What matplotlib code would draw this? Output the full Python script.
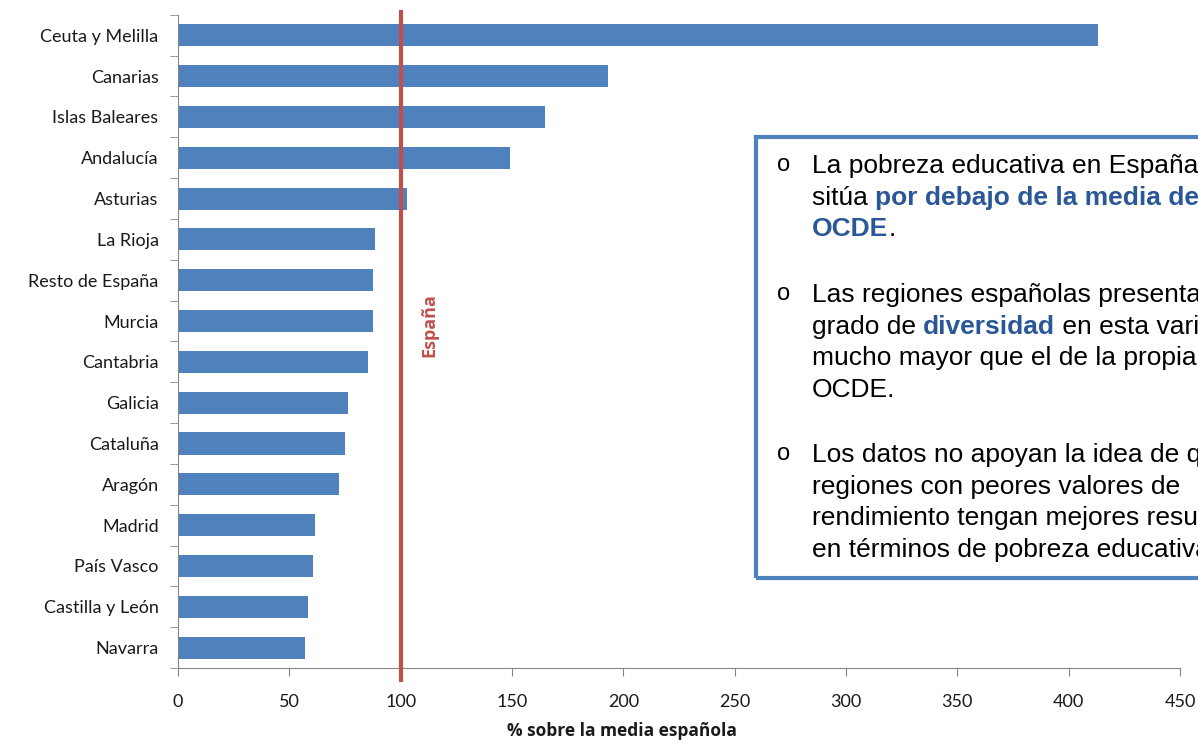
import matplotlib
matplotlib.use('Agg')
import matplotlib.pyplot as plt
from matplotlib.patches import Rectangle

regiones = ['Ceuta y Melilla', 'Canarias', 'Islas Baleares', 'Andalucía', 'Asturias',
            'La Rioja', 'Resto de España', 'Murcia', 'Cantabria', 'Galicia', 'Cataluña',
            'Aragón', 'Madrid', 'País Vasco', 'Castilla y León', 'Navarra']
valores = [413, 193, 165, 149, 103, 88.5, 87.5, 87.5, 85.5, 76.5, 75, 72.5, 61.5, 60.5, 58.5, 57]
xticks = [0, 50, 100, 150, 200, 250, 300, 350, 400, 450]

# parrafos del cuadro: lista de lineas, cada linea lista de (texto, resaltado)
parrafos = [
    [[('La pobreza educativa en España se', False)],
     [('sitúa ', False), ('por debajo de la media de la', True)],
     [('OCDE', True), ('.', False)]],
    [[('Las regiones españolas presentan un', False)],
     [('grado de ', False), ('diversidad', True), (' en esta variable', False)],
     [('mucho mayor que el de la propia', False)],
     [('OCDE.', False)]],
    [[('Los datos no apoyan la idea de que las', False)],
     [('regiones con peores valores de', False)],
     [('rendimiento tengan mejores resultados', False)],
     [('en términos de pobreza educativa.', False)]],
]

azul = '#4f81bd'
rojo = '#c0504d'
gris = '#868686'

fig = plt.figure(figsize=(11.98, 7.42), dpi=100)
ax = fig.add_axes([0.1486, 0.0997, 0.8364, 0.8803])

pos = list(range(len(regiones)))
ax.barh(pos, valores, height=0.54, color=azul)
ax.set_ylim(len(regiones) - 0.5, -0.5)
ax.set_xlim(0, 450)

ax.axvline(100, ymin=-0.018, ymax=1.004, color=rojo, lw=3, clip_on=False, zorder=3)
ax.text(113, 7.1, 'España', rotation=90, color=rojo, fontsize=13, fontweight='bold',
        ha='center', va='center', family='Open Sans')

for s in ['top', 'right']:
    ax.spines[s].set_visible(False)
ax.spines['left'].set_color(gris)
ax.spines['bottom'].set_color(gris)

ax.set_yticks(pos)
ax.set_yticklabels(regiones, family='Lato', fontsize=13, color='#1a1a1a')
ax.set_yticks([p - 0.5 for p in pos] + [len(regiones) - 0.5], minor=True)
ax.tick_params(axis='y', which='major', length=0, pad=14)
ax.tick_params(axis='y', which='minor', length=6, color=gris)

ax.set_xticks(xticks)
ax.set_xticklabels([str(t) for t in xticks], family='Lato', fontsize=13, color='#1a1a1a')
ax.tick_params(axis='x', length=6, color=gris, pad=13)
ax.set_xlabel('% sobre la media española', family='Open Sans', fontsize=12.5,
              fontweight='bold', color='#1a1a1a')
ax.xaxis.set_label_coords(0.443, -0.083)

# cuadro de texto (sale por la derecha de la figura)
fig.add_artist(Rectangle((756 / 1198, 1 - 578 / 742), 500 / 1198, 441 / 742,
                         transform=fig.transFigure, fill=False, ec=azul, lw=3, clip_on=False))

renderer = fig.canvas.get_renderer()
y_par = [166, 295, 455]
for parrafo, y0 in zip(parrafos, y_par):
    fig.text(784 / 1198, 1 - (y0 - 1) / 742, 'o', fontsize=17, family='Liberation Sans',
             ha='center', va='center')
    for i, linea in enumerate(parrafo):
        x = 812
        y = y0 + i * 31.7
        for texto, resaltado in linea:
            t = fig.text(x / 1198, 1 - y / 742, texto, fontsize=19, family='Liberation Sans',
                         fontweight='bold' if resaltado else 'normal',
                         color='#2a5797' if resaltado else '#000000', va='center')
            bb = t.get_window_extent(renderer)
            x = bb.x1

fig.savefig('out.png', dpi=100)
